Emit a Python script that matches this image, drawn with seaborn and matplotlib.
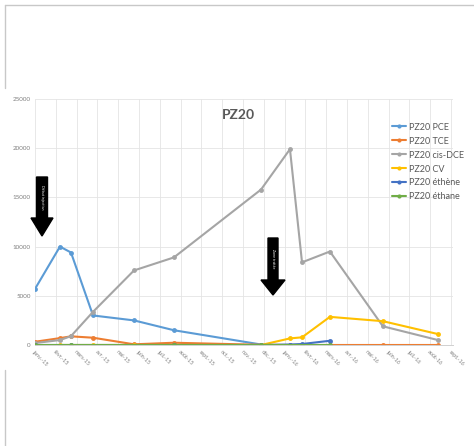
import numpy as np
import pandas as pd
import seaborn as sns
import matplotlib
matplotlib.use("Agg")
import matplotlib.pyplot as plt
from matplotlib.lines import Line2D
from matplotlib.patches import Polygon

# Sampling dates, in months from the first tick of the axis
months = [0, 1.2, 1.73, 2.79, 4.76, 6.68, 10.87, 12.26, 12.84, 14.18, 16.73, 19.38]

pce = [5700, 10000, 9400, 3000, 2500, 1500, 50, np.nan, np.nan, np.nan, np.nan, np.nan]
tce = [330, 700, 880, 740, 70, 230, 20, 0, 0, 0, 0, 0]
cis_dce = [200, 500, 900, 3370, 7575, 8900, 15800, 19900, 8400, 9500, 1900, 500]
cv = [np.nan, 0, np.nan, 0, 0, np.nan, 0, 670, 780, 2860, 2420, 1110]
ethene = [0, np.nan, 0, np.nan, np.nan, 0, 0, 50, 100, 430, np.nan, np.nan]
ethane = [0, np.nan, 0, np.nan, np.nan, 0, 0, np.nan, np.nan, 0, np.nan, np.nan]

series_names = ["PZ20 PCE", "PZ20 TCE", "PZ20 cis-DCE", "PZ20 CV", "PZ20 éthène", "PZ20 éthane"]
series_colors = ["#5B9BD5", "#ED7D31", "#A5A5A5", "#FFC000", "#4472C4", "#70AD47"]

tick_labels = ["janv.-15", "févr.-15", "mars-15", "avr.-15", "mai-15", "juin-15", "juil.-15",
               "août-15", "sept.-15", "oct.-15", "nov.-15", "déc.-15", "janv.-16", "févr.-16",
               "mars-16", "avr.-16", "mai-16", "juin-16", "juil.-16", "août-16", "sept.-16"]
y_ticks = [0, 5000, 10000, 15000, 20000, 25000]

frames = []
for name, vals in zip(series_names, [pce, tce, cis_dce, cv, ethene, ethane]):
    frames.append(pd.DataFrame({"mois": months, "conc": vals, "serie": name}))
df = pd.concat(frames, ignore_index=True).dropna()

sns.set_style("white")
plt.rcParams["font.family"] = ["Lato", "DejaVu Sans"]

W, H = 474, 446
fig = plt.figure(figsize=(W / 100, H / 100), dpi=100)
ax = fig.add_axes([35 / W, (H - 345) / H, (453 - 35) / W, (345 - 99) / H])

sns.lineplot(data=df, x="mois", y="conc", hue="serie", hue_order=series_names,
             palette=dict(zip(series_names, series_colors)), marker="o", markersize=3.5,
             markeredgewidth=0, linewidth=1.5, sort=False, ax=ax, legend=False)

ax.set_xlim(0, 20.1)
ax.set_ylim(0, 25000)
ax.set_xticks(range(len(tick_labels)))
ax.set_xticklabels(tick_labels, rotation=-45, ha="left", va="top", rotation_mode="anchor",
                   fontsize=4, color="#808080")
ax.set_yticks(y_ticks)
ax.set_yticklabels([str(v) for v in y_ticks], fontsize=4.5, color="#808080")
ax.tick_params(length=0, pad=3)
ax.set_xlabel("")
ax.set_ylabel("")
ax.grid(True, color="#e4e4e4", linewidth=0.6)
for s in ["top", "right", "left"]:
    ax.spines[s].set_visible(False)
ax.spines["bottom"].set_color("#d0d0d0")
ax.spines["bottom"].set_linewidth(0.7)

handles = [Line2D([], [], color=c, marker="o", markersize=3, markeredgewidth=0, linewidth=1.5)
           for c in series_colors]
fig.legend(handles, series_names, loc="upper left", bbox_to_anchor=(388 / W, 1 - 119 / H),
           frameon=False, fontsize=6.5, labelcolor="#595959", handlelength=1.6,
           handletextpad=0.3, labelspacing=0.55, borderaxespad=0)

fig.text(238 / W, 1 - 115 / H, "PZ20", ha="center", va="center", fontsize=10,
         fontweight="bold", color="#595959")


def down_arrow(cx, top, head_top, tip, shaft_hw, head_hw, label):
    pts = [(cx - shaft_hw, top), (cx + shaft_hw, top), (cx + shaft_hw, head_top),
           (cx + head_hw, head_top), (cx, tip), (cx - head_hw, head_top),
           (cx - shaft_hw, head_top)]
    pts = [(x / W, 1 - y / H) for x, y in pts]
    fig.add_artist(Polygon(pts, closed=True, facecolor="black", edgecolor="black",
                           transform=fig.transFigure))
    fig.text(cx / W, 1 - (top + head_top) / 2 / H, label, rotation=270, ha="center",
             va="center", fontsize=2.6, color="white")


down_arrow(42, 177, 218, 236, 5.5, 11, "Début injection")
down_arrow(273, 238, 280, 295, 5, 12, "Zone traitée")

# page frame around the pasted chart
frame_kw = dict(color="#c8c8c8", linewidth=1, transform=fig.transFigure)
fig.add_artist(Line2D([5 / W, 1], [1 - 5 / H, 1 - 5 / H], **frame_kw))
fig.add_artist(Line2D([5 / W, 5 / W], [1 - 5 / H, 1 - 88 / H], **frame_kw))
fig.add_artist(Line2D([5 / W, 5 / W], [1 - 370 / H, 0], **frame_kw))

fig.savefig("out.png", dpi=100, facecolor="white")
